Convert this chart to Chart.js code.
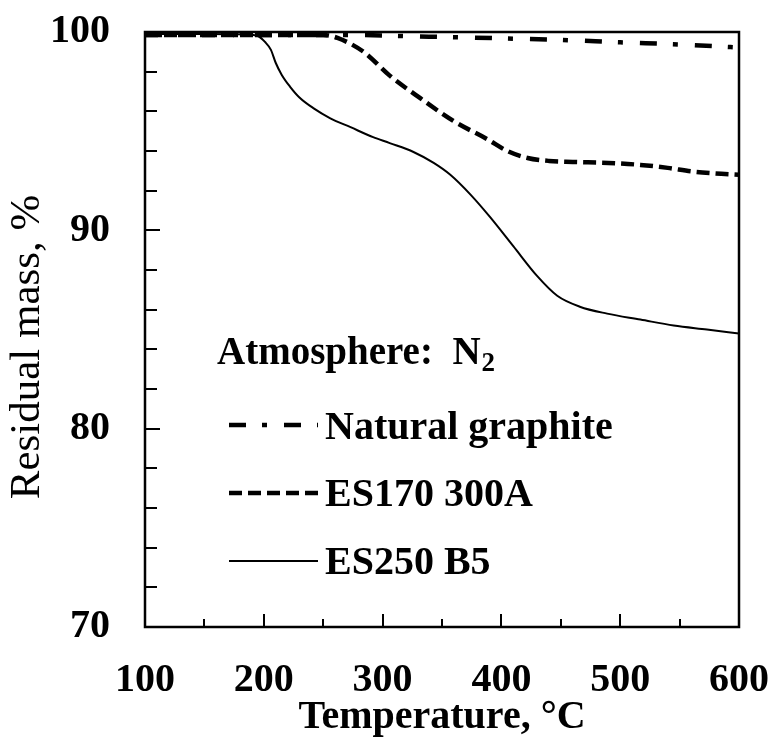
<!DOCTYPE html>
<html>
<head>
<meta charset="utf-8">
<script src="https://cdn.jsdelivr.net/npm/chart.js@4/dist/chart.umd.min.js"></script>
<style>
  html, body { margin: 0; padding: 0; background: #fff; }
  #wrap { width: 769px; height: 738px; }
</style>
</head>
<body>
<div id="wrap"><canvas id="tga" width="769" height="738"></canvas></div>
<script>
// TGA curves under nitrogen: residual mass (%) vs temperature (°C)
const graphiteTemp = [100, 200, 250, 280, 320, 360, 400, 450, 500, 550, 600];
const graphiteMass = [99.85, 99.85, 99.85, 99.85, 99.79, 99.74, 99.68, 99.6, 99.48, 99.37, 99.22];

const es170Temp = [100, 200, 250, 262, 284, 306, 332, 360, 388, 405, 422, 440, 460, 490, 517, 540, 560, 580, 600];
const es170Mass = [99.85, 99.85, 99.85, 99.7, 99.0, 97.8, 96.65, 95.5, 94.6, 94.0, 93.65, 93.5, 93.45, 93.4, 93.3, 93.15, 92.97, 92.87, 92.8];

const es250Temp = [100, 150, 185, 195, 201, 206, 210, 215, 222, 230, 242, 256, 273, 292, 306, 326, 343, 357, 374, 390, 410, 430, 447, 466, 489, 517, 545, 573, 600];
const es250Mass = [99.9, 99.9, 99.88, 99.8, 99.5, 99.1, 98.45, 97.85, 97.25, 96.7, 96.15, 95.65, 95.2, 94.7, 94.4, 93.95, 93.4, 92.8, 91.8, 90.7, 89.2, 87.7, 86.7, 86.15, 85.8, 85.5, 85.2, 85.0, 84.8];

const seriesNames = ['Natural graphite', 'ES170 300A', 'ES250 B5'];
const xTicks = [100, 200, 300, 400, 500, 600];
const yTicks = [70, 80, 90, 100];
const xTitle = 'Temperature, °C';
const yTitle = 'Residual mass, %';
const atmosphereLabel = 'Atmosphere:  N';
const atmosphereSub = '2';

const serif = "'Liberation Serif', 'Times New Roman', serif";

function toPoints(xs, ys) { return xs.map((x, i) => ({ x: x, y: ys[i] })); }

// white page background
const whiteBg = {
  id: 'whiteBg',
  beforeDraw(chart) {
    const c = chart.ctx;
    c.save();
    c.fillStyle = '#fff';
    c.fillRect(0, 0, chart.width, chart.height);
    c.restore();
  }
};

// frame plus inward major/minor tick marks
const frameTicks = {
  id: 'frameTicks',
  afterDraw(chart) {
    const c = chart.ctx;
    const a = chart.chartArea;
    const xs = chart.scales.x, ys = chart.scales.y;
    c.save();
    c.strokeStyle = '#000';
    c.lineWidth = 2;
    c.beginPath();
    for (let v = xs.min + 50; v < xs.max; v += 50) {
      const px = Math.round(xs.getPixelForValue(v));
      const len = (v % 100 === 0) ? 13 : 8;
      c.moveTo(px, a.bottom);
      c.lineTo(px, a.bottom - len);
    }
    for (let v = ys.min + 2; v < ys.max; v += 2) {
      const py = Math.round(ys.getPixelForValue(v));
      const len = (v % 10 === 0) ? 15 : 12;
      c.moveTo(a.left, py);
      c.lineTo(a.left + len, py);
    }
    c.stroke();
    c.lineWidth = 2.5;
    c.strokeRect(a.left, a.top, a.right - a.left, a.bottom - a.top);
    c.restore();
  }
};

// vertical axis title, set a little below the middle of the axis
const yAxisTitle = {
  id: 'yAxisTitle',
  afterDraw(chart) {
    const c = chart.ctx;
    c.save();
    c.translate(28, 347);
    c.rotate(-Math.PI / 2);
    c.fillStyle = '#000';
    c.font = "43px " + serif;
    c.textAlign = 'center';
    c.textBaseline = 'middle';
    c.fillText(yTitle, 0, 0);
    c.restore();
  }
};

// in-plot key: atmosphere note and one sample line per series
const keyBox = {
  id: 'keyBox',
  afterDraw(chart) {
    const c = chart.ctx;
    c.save();
    c.fillStyle = '#000';
    c.textBaseline = 'alphabetic';
    c.font = "bold 39px " + serif;
    c.fillText(atmosphereLabel, 217, 364);
    const w = c.measureText(atmosphereLabel).width;
    c.font = "bold 27px " + serif;
    c.fillText(atmosphereSub, 217 + w + 1, 371);

    const rows = [439, 506, 574];
    const lineY = [425, 493, 561];
    chart.data.datasets.forEach((ds, i) => {
      c.strokeStyle = ds.borderColor;
      c.lineWidth = ds.borderWidth;
      c.lineCap = 'butt';
      c.setLineDash(ds.borderDash || []);
      c.beginPath();
      c.moveTo(229, lineY[i]);
      c.lineTo(318, lineY[i]);
      c.stroke();
      c.setLineDash([]);
      c.font = "bold 40px " + serif;
      c.fillText(ds.label, 325, rows[i]);
    });
    c.restore();
  }
};

// keep the plot frame fixed: no extra room for overhanging end labels
function noOverhang(scale) {
  scale.paddingLeft = 0;
  scale.paddingRight = 0;
  scale.paddingTop = 0;
  scale.paddingBottom = 0;
}

const commonLine = {
  pointRadius: 0,
  fill: false,
  cubicInterpolationMode: 'monotone',
  borderColor: '#000',
  borderCapStyle: 'butt'
};

new Chart(document.getElementById('tga'), {
  type: 'line',
  data: {
    datasets: [
      Object.assign({}, commonLine, {
        label: seriesNames[0],
        data: toPoints(graphiteTemp, graphiteMass),
        borderWidth: 4.5,
        borderDash: [17, 16, 5, 17]
      }),
      Object.assign({}, commonLine, {
        label: seriesNames[1],
        data: toPoints(es170Temp, es170Mass),
        borderWidth: 4.5,
        borderDash: [13, 6]
      }),
      Object.assign({}, commonLine, {
        label: seriesNames[2],
        data: toPoints(es250Temp, es250Mass),
        borderWidth: 2
      })
    ]
  },
  options: {
    responsive: false,
    animation: false,
    events: [],
    layout: { autoPadding: false, padding: { top: 32, right: 30, left: 0, bottom: 0 } },
    plugins: { legend: { display: false }, tooltip: { enabled: false } },
    scales: {
      x: {
        type: 'linear',
        min: 100, max: 600,
        afterFit(scale) { scale.height = 111; noOverhang(scale); },
        afterBuildTicks(scale) { scale.ticks = xTicks.map(v => ({ value: v })); },
        grid: { display: false, drawTicks: false },
        border: { display: false },
        ticks: {
          color: '#000',
          padding: 34,
          maxRotation: 0,
          font: { family: serif, size: 40, weight: 'bold', lineHeight: 1 }
        },
        title: {
          display: true,
          text: xTitle,
          color: '#000',
          padding: { top: 0, bottom: 0 },
          font: { family: serif, size: 40, weight: 'bold', lineHeight: 1 }
        }
      },
      y: {
        type: 'linear',
        min: 70, max: 100,
        afterFit(scale) { scale.width = 145; noOverhang(scale); },
        afterBuildTicks(scale) { scale.ticks = yTicks.map(v => ({ value: v })); },
        grid: { display: false, drawTicks: false },
        border: { display: false },
        ticks: {
          color: '#000',
          padding: 35,
          font: { family: serif, size: 40, weight: 'bold', lineHeight: 1 }
        },
        title: { display: false }
      }
    }
  },
  plugins: [whiteBg, frameTicks, yAxisTitle, keyBox]
});
</script>
</body>
</html>
